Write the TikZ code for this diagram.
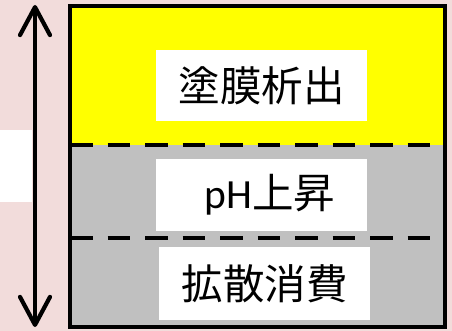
\documentclass[tikz,border=0pt]{standalone}
\usepackage{fontspec}
\newfontfamily\cjk{Noto Sans CJK JP}
\newfontfamily\lat{Carlito}
\usetikzlibrary{arrows.meta}
\definecolor{bgpink}{HTML}{F2DCDB}
\definecolor{layergray}{HTML}{C0C0C0}
\definecolor{layeryellow}{HTML}{FFFF00}
\tikzset{
  labelbox/.style={fill=white, draw=none, minimum width=211pt, minimum height=72pt, inner sep=0pt, font=\fontsize{41.5}{45}\selectfont\cjk},
  divider/.style={line width=4.2pt, dash pattern=on 22.5pt off 15pt},
  thick arrow/.style={line width=4.2pt, line cap=round, {Straight Barb[length=28pt,width=30pt,line cap=round,line join=round]}-{Straight Barb[length=28pt,width=30pt,line cap=round,line join=round]}}
}
\begin{document}
\begin{tikzpicture}[x=1pt,y=-1pt]
\useasboundingbox (0,0) rectangle (452,331);
\fill[bgpink] (0,0) rectangle (452,331);
\fill[white] (0,130) rectangle (32,202);
% layers
\fill[layeryellow] (70,6) rectangle (445,145);
\fill[layergray] (70,145) rectangle (445,327);
\coordinate (d1l) at (70,145);
\coordinate (d1r) at (445,145);
\coordinate (d2l) at (70,238);
\coordinate (d2r) at (445,238);
\draw[divider] (d1l) -- (d1r);
\draw[divider] (d2l) -- (d2r);
\node[labelbox, minimum height=71pt] (film) at (261.5,85.5) {塗膜析出};
\node[labelbox] (ph) at (261.5,195) {\hspace*{17pt}{\lat pH}上昇};
\node[labelbox, minimum height=73pt] (diff) at (264.5,283.5) {拡散消費};
\draw[line width=4.5pt] (70,6) rectangle (445,327);
% double arrow
\coordinate (atop) at (35,5);
\coordinate (abot) at (35,327);
\draw[thick arrow] (atop) -- (abot);
\end{tikzpicture}
\end{document}
